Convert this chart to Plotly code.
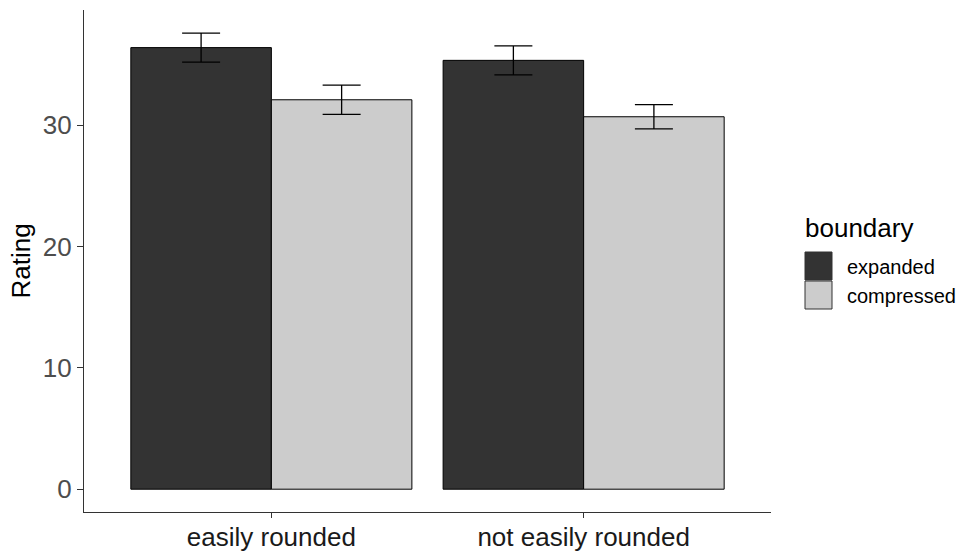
import plotly.graph_objects as go

conditions = ["easily rounded", "not easily rounded"]
boundary = ["expanded", "compressed"]
expanded_mean = [36.4, 35.35]
expanded_se = [1.2, 1.2]
compressed_mean = [32.1, 30.7]
compressed_se = [1.2, 1.0]
colors = {"expanded": "#333333", "compressed": "#CCCCCC"}
y_ticks = [0, 10, 20, 30]

FONT = "Liberation Sans, Arial, sans-serif"
BIG = 26
SMALL = 20

fig = go.Figure()
for name, means, ses in [("expanded", expanded_mean, expanded_se),
                         ("compressed", compressed_mean, compressed_se)]:
    fig.add_trace(go.Bar(
        x=conditions, y=means, name=name,
        marker=dict(color=colors[name], line=dict(color="#000000", width=1)),
        error_y=dict(type="data", array=ses, color="#000000", thickness=1.3, width=19),
        showlegend=False,
    ))

fig.update_layout(
    barmode="group", bargap=0.1, bargroupgap=0,
    width=961, height=552,
    margin=dict(l=84, r=190, t=10, b=40, autoexpand=False),
    plot_bgcolor="white", paper_bgcolor="white",
    font=dict(family=FONT, color="#000000"),
)
fig.update_xaxes(
    type="category", range=[-0.6, 1.6], automargin=False,
    showline=True, linecolor="#333333", linewidth=1.2,
    ticks="outside", ticklen=5, tickcolor="#333333", tickwidth=1.2,
    tickfont=dict(size=BIG, color="#1A1A1A", family=FONT),
    ticklabelstandoff=-3,
    showgrid=False, zeroline=False,
)
fig.update_yaxes(
    range=[-1.88, 39.5], tickvals=y_ticks, automargin=False,
    showline=True, linecolor="#333333", linewidth=1.2,
    ticks="outside", ticklen=6, tickcolor="#333333", tickwidth=1.2,
    tickfont=dict(size=BIG, color="#4D4D4D", family=FONT),
    showgrid=False, zeroline=False,
    title=dict(text="Rating", font=dict(size=BIG, color="#000000", family=FONT), standoff=4),
)

# legend drawn manually (ggplot-style keys); coordinates relative to plot area
def py(pix):
    return (512 - pix) / 502.0

def px(pix):
    return (pix - 84) / 687.0

fig.add_annotation(text="boundary", xref="paper", yref="paper", x=px(803), y=py(228),
                   xanchor="left", yanchor="middle", showarrow=False,
                   font=dict(size=BIG, color="#000000", family=FONT))
key_tops = [252, 281]
for name, top in zip(boundary, key_tops):
    fig.add_shape(type="rect", xref="paper", yref="paper",
                  x0=px(805), x1=px(832), y0=py(top + 28), y1=py(top),
                  fillcolor=colors[name], line=dict(color="#333333", width=1))
    fig.add_annotation(text=name, xref="paper", yref="paper", x=px(845), y=py(top + 15),
                       xanchor="left", yanchor="middle", showarrow=False,
                       font=dict(size=SMALL, color="#000000", family=FONT))

fig.write_html("out.html", config={"displayModeBar": False},
               post_script="document.body.style.margin='0';document.body.style.overflow='hidden';")
